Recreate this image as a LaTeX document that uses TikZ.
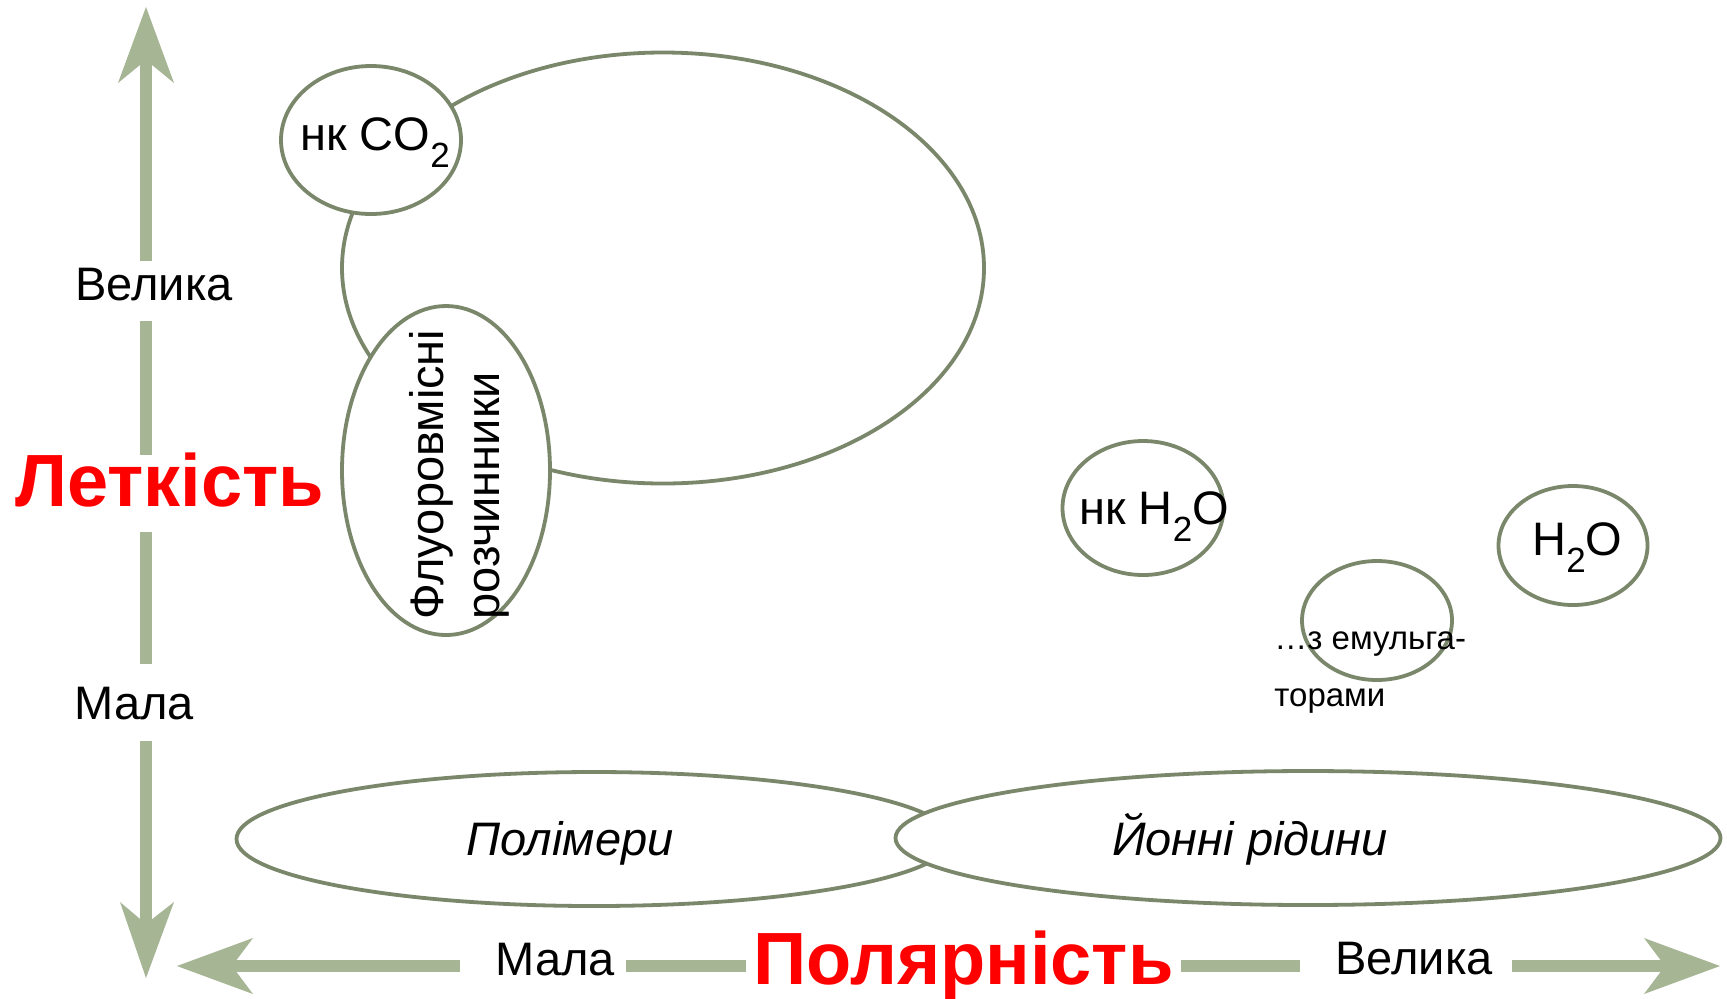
\documentclass[tikz,border=0pt]{standalone}
\usepackage{fontspec}
\setmainfont{Liberation Sans}
\usetikzlibrary{shapes.geometric}
\definecolor{edgegreen}{RGB}{122,135,106}
\definecolor{axisgreen}{RGB}{166,181,148}
\definecolor{titlered}{RGB}{255,0,0}
\newcommand\lowsub[1]{\raisebox{-8.5pt}{\fontsize{17.5pt}{17.5pt}\selectfont #1}}
\begin{document}
\begin{tikzpicture}[x=0.5pt,y=-0.5pt,
  ell/.style={ellipse, draw=edgegreen, line width=1.9pt, inner sep=0pt},
  lbl/.style={inner sep=0pt, anchor=base west, font=\fontsize{23.5pt}{28pt}\selectfont},
  title/.style={inner sep=0pt, anchor=base west, text=titlered, font=\fontsize{37pt}{44pt}\selectfont\bfseries},
  shaft/.style={draw=axisgreen, line width=6pt},
  head/.style={fill=axisgreen}]
\fill[white] (0,0) rectangle (1727,998);
\useasboundingbox (0,0) rectangle (1727,998);

% ---- ellipses ----
\node[ell, fill=white, minimum width=321pt, minimum height=215.5pt] (bigell) at (663,268) {};
\node[ell, fill=white, minimum width=90pt, minimum height=74pt] (co2ell) at (371,140) {};
\node[ell, fill=white, minimum width=104pt, minimum height=164.5pt] (fluell) at (446,470.5) {};
\node[ell, minimum width=80.5pt, minimum height=67pt] (nkh2oell) at (1143,508) {};
\node[ell, minimum width=74.5pt, minimum height=59.5pt] (h2oell) at (1573,545.5) {};
\node[ell, minimum width=75pt, minimum height=59.5pt] (emell) at (1377,620.5) {};
\node[ell, fill=white, minimum width=357.5pt, minimum height=67pt] (polell) at (594,839) {};
\node[ell, fill=white, minimum width=412.5pt, minimum height=67pt] (yonell) at (1308,838) {};

% ---- ellipse texts ----
\node[lbl] (co2txt) at (300,150) {нк CO\lowsub{2}};
\node[lbl, rotate=90, align=left, font=\fontsize{23.5pt}{28pt}\selectfont] (flutxt) at (499,620) {Флуоровмісні\\розчинники};
\node[lbl] (nkh2otxt) at (1079,524) {нк H\lowsub{2}O};
\node[lbl] (h2otxt) at (1532,555) {H\lowsub{2}O};
\node[lbl, align=left, font=\fontsize{16.5pt}{28.5pt}\selectfont] (emtxt) at (1274,706) {…з емульга-\\торами};
\node[lbl, anchor=base, font=\fontsize{23.5pt}{28pt}\selectfont\itshape] (poltxt) at (570,855) {Полімери};
\node[lbl, anchor=base, font=\fontsize{23.5pt}{28pt}\selectfont\itshape] (yontxt) at (1250,855) {Йонні рідини};

% ---- axis labels ----
\node[lbl] (velL) at (75,300) {Велика};
\node[title] (letk) at (15,506) {Леткість};
\node[lbl] (malaL) at (74,719) {Мала};
\node[lbl] (malaB) at (495,975) {Мала};
\node[title] (polar) at (753,984) {Полярність};
\node[lbl] (velB) at (1335,974) {Велика};

% ---- vertical axis ----
\coordinate (vt) at (146,7);   \coordinate (vtn) at (146,60);
\coordinate (vb) at (146,978); \coordinate (vbn) at (146,924);
\coordinate (v1) at (146,261); \coordinate (v2) at (146,321);
\coordinate (v3) at (146,455); \coordinate (v4) at (146,532);
\coordinate (v5) at (146,664); \coordinate (v6) at (146,741);
\fill[head] (vt) -- (174,83) -- (vtn) -- (118,83) -- cycle;
\fill[head] (vb) -- (174,902) -- (vbn) -- (120,902) -- cycle;
\draw[shaft] (vtn) -- (v1);
\draw[shaft] (v2) -- (v3);
\draw[shaft] (v4) -- (v5);
\draw[shaft] (v6) -- (vbn);

% ---- horizontal axis ----
\coordinate (hl) at (177,966);  \coordinate (hln) at (232,966);
\coordinate (hr) at (1720,966); \coordinate (hrn) at (1665,966);
\coordinate (h1) at (460,966);  \coordinate (h2) at (626,966);
\coordinate (h3) at (746,966);  \coordinate (h4) at (1181,966);
\coordinate (h5) at (1300,966); \coordinate (h6) at (1512,966);
\fill[head] (hl) -- (253,938) -- (hln) -- (253,994) -- cycle;
\fill[head] (hr) -- (1644,938) -- (hrn) -- (1644,994) -- cycle;
\draw[shaft] (hln) -- (h1);
\draw[shaft] (h2) -- (h3);
\draw[shaft] (h4) -- (h5);
\draw[shaft] (h6) -- (hrn);
\end{tikzpicture}
\end{document}
